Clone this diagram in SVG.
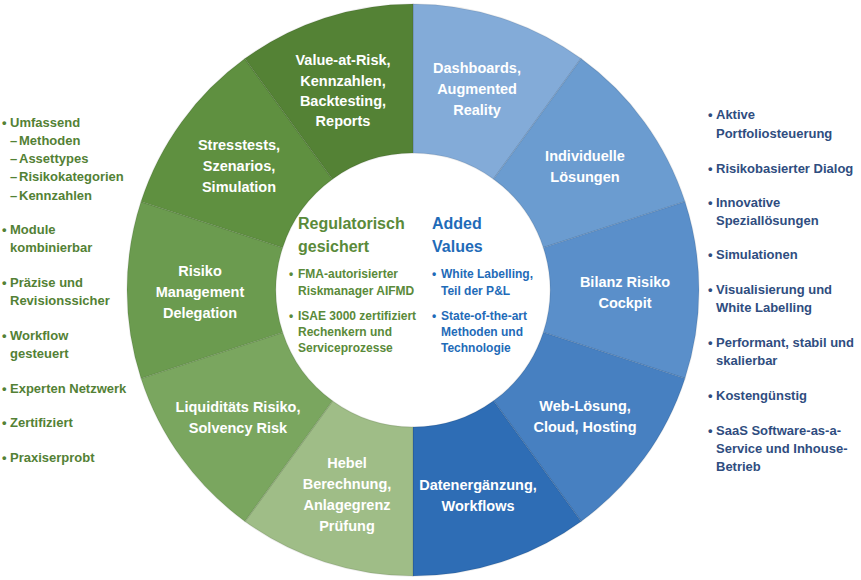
<svg xmlns="http://www.w3.org/2000/svg" width="861" height="580" viewBox="0 0 861 580">
<style>
text{font-family:"Liberation Sans",Arial,sans-serif;font-weight:bold}
.seg{stroke:#000;stroke-opacity:0.08;stroke-width:1.5}
.lbl{fill:#fff;font-size:14.5px;text-anchor:middle}
.gl{fill:#538135;font-size:13px}
.bl{fill:#2f4d80;font-size:13px}
.ct{font-size:16px}
.cb{font-size:12px}
.g{fill:#5a8a3a}
.b{fill:#1f6bb8}
</style>
<rect width="861" height="580" fill="#fff"/>
<g id="ring">
<g id="seg-dashboards">
<path class="seg" fill="#83abd8" d="M413,4 A286,286 0 0 1 581.11,58.62 L493.53,179.16 A137,137 0 0 0 413,153 Z"/>
<text class="lbl"><tspan x="477" y="73">Dashboards,</tspan><tspan x="477" y="94">Augmented</tspan><tspan x="477" y="115">Reality</tspan></text>
</g>
<g id="seg-individuelle">
<path class="seg" fill="#6b9cd0" d="M581.11,58.62 A286,286 0 0 1 685,201.62 L543.29,247.66 A137,137 0 0 0 493.53,179.16 Z"/>
<text class="lbl"><tspan x="585" y="161">Individuelle</tspan><tspan x="585" y="182">Lösungen</tspan></text>
</g>
<g id="seg-bilanz">
<path class="seg" fill="#5a8fca" d="M685,201.62 A286,286 0 0 1 685,378.38 L543.29,332.34 A137,137 0 0 0 543.29,247.66 Z"/>
<text class="lbl"><tspan x="625" y="287">Bilanz Risiko</tspan><tspan x="625" y="308">Cockpit</tspan></text>
</g>
<g id="seg-web">
<path class="seg" fill="#4780c1" d="M685,378.38 A286,286 0 0 1 581.11,521.38 L493.53,400.84 A137,137 0 0 0 543.29,332.34 Z"/>
<text class="lbl"><tspan x="585" y="411">Web-Lösung,</tspan><tspan x="585" y="432">Cloud, Hosting</tspan></text>
</g>
<g id="seg-daten">
<path class="seg" fill="#2e6db5" d="M581.11,521.38 A286,286 0 0 1 413,576 L413,427 A137,137 0 0 0 493.53,400.84 Z"/>
<text class="lbl"><tspan x="478" y="490">Datenergänzung,</tspan><tspan x="478" y="511">Workflows</tspan></text>
</g>
<g id="seg-hebel">
<path class="seg" fill="#9fbd87" d="M413,576 A286,286 0 0 1 244.89,521.38 L332.47,400.84 A137,137 0 0 0 413,427 Z"/>
<text class="lbl"><tspan x="347" y="468">Hebel</tspan><tspan x="347" y="489">Berechnung,</tspan><tspan x="347" y="510">Anlagegrenz</tspan><tspan x="347" y="531">Prüfung</tspan></text>
</g>
<g id="seg-liquiditaet">
<path class="seg" fill="#7aa65f" d="M244.89,521.38 A286,286 0 0 1 141,378.38 L282.71,332.34 A137,137 0 0 0 332.47,400.84 Z"/>
<text class="lbl"><tspan x="238" y="412">Liquiditäts Risiko,</tspan><tspan x="238" y="433">Solvency Risk</tspan></text>
</g>
<g id="seg-delegation">
<path class="seg" fill="#6b9b4f" d="M141,378.38 A286,286 0 0 1 141,201.62 L282.71,247.66 A137,137 0 0 0 282.71,332.34 Z"/>
<text class="lbl"><tspan x="200" y="276">Risiko</tspan><tspan x="200" y="297">Management</tspan><tspan x="200" y="318">Delegation</tspan></text>
</g>
<g id="seg-stresstests">
<path class="seg" fill="#5f9040" d="M141,201.62 A286,286 0 0 1 244.89,58.62 L332.47,179.16 A137,137 0 0 0 282.71,247.66 Z"/>
<text class="lbl"><tspan x="239" y="150">Stresstests,</tspan><tspan x="239" y="171">Szenarios,</tspan><tspan x="239" y="192">Simulation</tspan></text>
</g>
<g id="seg-var">
<path class="seg" fill="#548235" d="M244.89,58.62 A286,286 0 0 1 413,4 L413,153 A137,137 0 0 0 332.47,179.16 Z"/>
<text class="lbl"><tspan x="343" y="65">Value-at-Risk,</tspan><tspan x="343" y="86">Kennzahlen,</tspan><tspan x="343" y="106">Backtesting,</tspan><tspan x="343" y="126">Reports</tspan></text>
</g>
</g>
<g id="center">
<circle cx="413" cy="290" r="136" fill="#fff"/>
<g id="center-left">
<text class="ct g"><tspan x="298" y="229">Regulatorisch</tspan><tspan x="298" y="252">gesichert</tspan></text>
<text class="cb g"><tspan x="289" y="278">•</tspan><tspan x="298" y="278">FMA-autorisierter</tspan><tspan x="298" y="295">Riskmanager AIFMD</tspan></text>
<text class="cb g"><tspan x="289" y="320">•</tspan><tspan x="298" y="320">ISAE 3000 zertifiziert</tspan><tspan x="298" y="336">Rechenkern und</tspan><tspan x="298" y="352">Serviceprozesse</tspan></text>
</g>
<g id="center-right">
<text class="ct b"><tspan x="432" y="229">Added</tspan><tspan x="432" y="252">Values</tspan></text>
<text class="cb b"><tspan x="432" y="278">•</tspan><tspan x="441" y="278">White Labelling,</tspan><tspan x="441" y="295">Teil der P&amp;L</tspan></text>
<text class="cb b"><tspan x="432" y="320">•</tspan><tspan x="441" y="320">State-of-the-art</tspan><tspan x="441" y="336">Methoden und</tspan><tspan x="441" y="352">Technologie</tspan></text>
</g>
</g>
<g id="list-left">
<text class="gl"><tspan x="2" y="127">•</tspan><tspan x="10" y="127">Umfassend</tspan></text>
<text class="gl"><tspan x="10" y="145">–</tspan><tspan x="19" y="145">Methoden</tspan></text>
<text class="gl"><tspan x="10" y="163">–</tspan><tspan x="19" y="163">Assettypes</tspan></text>
<text class="gl"><tspan x="10" y="181">–</tspan><tspan x="19" y="181">Risikokategorien</tspan></text>
<text class="gl"><tspan x="10" y="200">–</tspan><tspan x="19" y="200">Kennzahlen</tspan></text>
<text class="gl"><tspan x="2" y="234">•</tspan><tspan x="10" y="234">Module</tspan><tspan x="10" y="252">kombinierbar</tspan></text>
<text class="gl"><tspan x="2" y="287">•</tspan><tspan x="10" y="287">Präzise und</tspan><tspan x="10" y="305">Revisionssicher</tspan></text>
<text class="gl"><tspan x="2" y="340">•</tspan><tspan x="10" y="340">Workflow</tspan><tspan x="10" y="358">gesteuert</tspan></text>
<text class="gl"><tspan x="2" y="393">•</tspan><tspan x="10" y="393">Experten Netzwerk</tspan></text>
<text class="gl"><tspan x="2" y="427">•</tspan><tspan x="10" y="427">Zertifiziert</tspan></text>
<text class="gl"><tspan x="2" y="462">•</tspan><tspan x="10" y="462">Praxiserprobt</tspan></text>
</g>
<g id="list-right">
<text class="bl"><tspan x="708" y="119">•</tspan><tspan x="716" y="119">Aktive</tspan><tspan x="716" y="138">Portfoliosteuerung</tspan></text>
<text class="bl"><tspan x="708" y="173">•</tspan><tspan x="716" y="173">Risikobasierter Dialog</tspan></text>
<text class="bl"><tspan x="708" y="207">•</tspan><tspan x="716" y="207">Innovative</tspan><tspan x="716" y="225">Speziallösungen</tspan></text>
<text class="bl"><tspan x="708" y="259">•</tspan><tspan x="716" y="259">Simulationen</tspan></text>
<text class="bl"><tspan x="708" y="294">•</tspan><tspan x="716" y="294">Visualisierung und</tspan><tspan x="716" y="312">White Labelling</tspan></text>
<text class="bl"><tspan x="708" y="347">•</tspan><tspan x="716" y="347">Performant, stabil und</tspan><tspan x="716" y="365">skalierbar</tspan></text>
<text class="bl"><tspan x="708" y="400">•</tspan><tspan x="716" y="400">Kostengünstig</tspan></text>
<text class="bl"><tspan x="708" y="435">•</tspan><tspan x="716" y="435">SaaS Software-as-a-</tspan><tspan x="716" y="453">Service und Inhouse-</tspan><tspan x="716" y="471">Betrieb</tspan></text>
</g>
<g id="connectors"/>
</svg>
